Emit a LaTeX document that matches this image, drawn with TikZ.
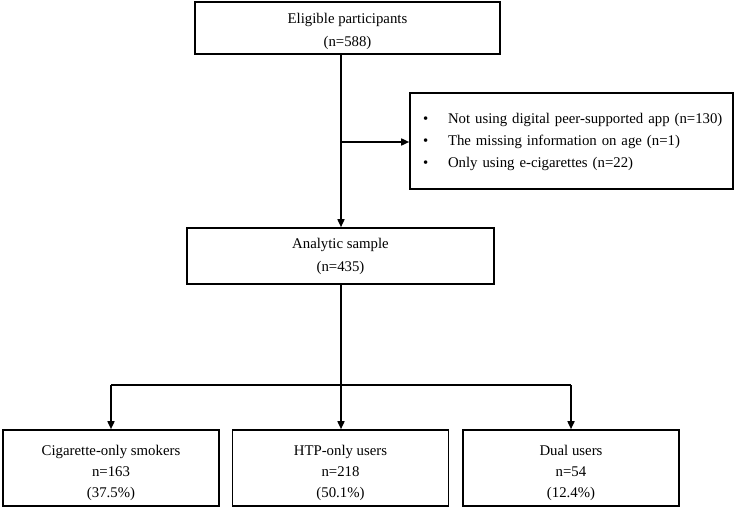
\documentclass[tikz,border=0pt]{standalone}
\usepackage{fontspec}
\setmainfont{Liberation Serif}
\usetikzlibrary{arrows.meta}
\newcommand{\lowerby}[2]{\raisebox{-#1}[\height][\depth]{#2}}
\begin{document}
\begin{tikzpicture}[x=1pt,y=-1pt,
  box/.style={draw=black, line width=1.6pt, fill=white, inner sep=0pt, align=center,
    font=\fontsize{14.8}{23}\selectfont},
  conn/.style={line width=1.6pt, -{Triangle[length=8pt,width=7pt]}},
  plain/.style={line width=1.6pt}]
\useasboundingbox[fill=white] (0,0) rectangle (736,508);
\node[box, minimum width=305pt, minimum height=52pt] (elig) at (347.5,28) {\lowerby{3pt}{\parbox{305pt}{\centering Eligible participants\\(n=588)}}};
\node[box, minimum width=307pt, minimum height=56pt] (ana) at (340.5,256) {Analytic sample\\(n=435)};
\node[box, minimum height=96pt, text width=323pt, align=left,
  font=\fontsize{14.8}{22}\selectfont] (excl) at (571.5,141) {%
  \lowerby{1pt}{\parbox{323pt}{%
  \makebox[38pt][l]{\hspace{13pt}•}Not using digital peer-supported app (n=130)\\
  \makebox[38pt][l]{\hspace{13pt}•}The missing information on age (n=1)\\
  \makebox[38pt][l]{\hspace{13pt}•}Only using e-cigarettes (n=22)}}};
\node[box, minimum width=216pt, minimum height=76pt, font=\fontsize{14.8}{21}\selectfont] (cig) at (111,468) {\lowerby{5pt}{\parbox{216pt}{\centering Cigarette-only smokers\\n=163\\(37.5\%)}}};
\node[box, minimum width=216pt, minimum height=76pt, font=\fontsize{14.8}{21}\selectfont] (htp) at (340.5,468) {\lowerby{5pt}{\parbox{216pt}{\centering HTP-only users\\n=218\\(50.1\%)}}};
\node[box, minimum width=216pt, minimum height=76pt, font=\fontsize{14.8}{21}\selectfont] (dual) at (571,468) {\lowerby{5pt}{\parbox{216pt}{\centering Dual users\\n=54\\(12.4\%)}}};
\coordinate (sp) at (341,142);
\coordinate (br) at (341,385);
\draw[conn] (elig.south -| sp) -- (ana.north -| sp);
\draw[conn] (sp) -- (excl.west |- sp);
\draw[plain] (ana.south -| br) -- (br);
\draw[plain] (cig.north |- br) -- (dual.north |- br);
\draw[conn] (cig.north |- br) -- (cig.north);
\draw[conn] (br) -- (htp.north -| br);
\draw[conn] (dual.north |- br) -- (dual.north);
\end{tikzpicture}
\end{document}
